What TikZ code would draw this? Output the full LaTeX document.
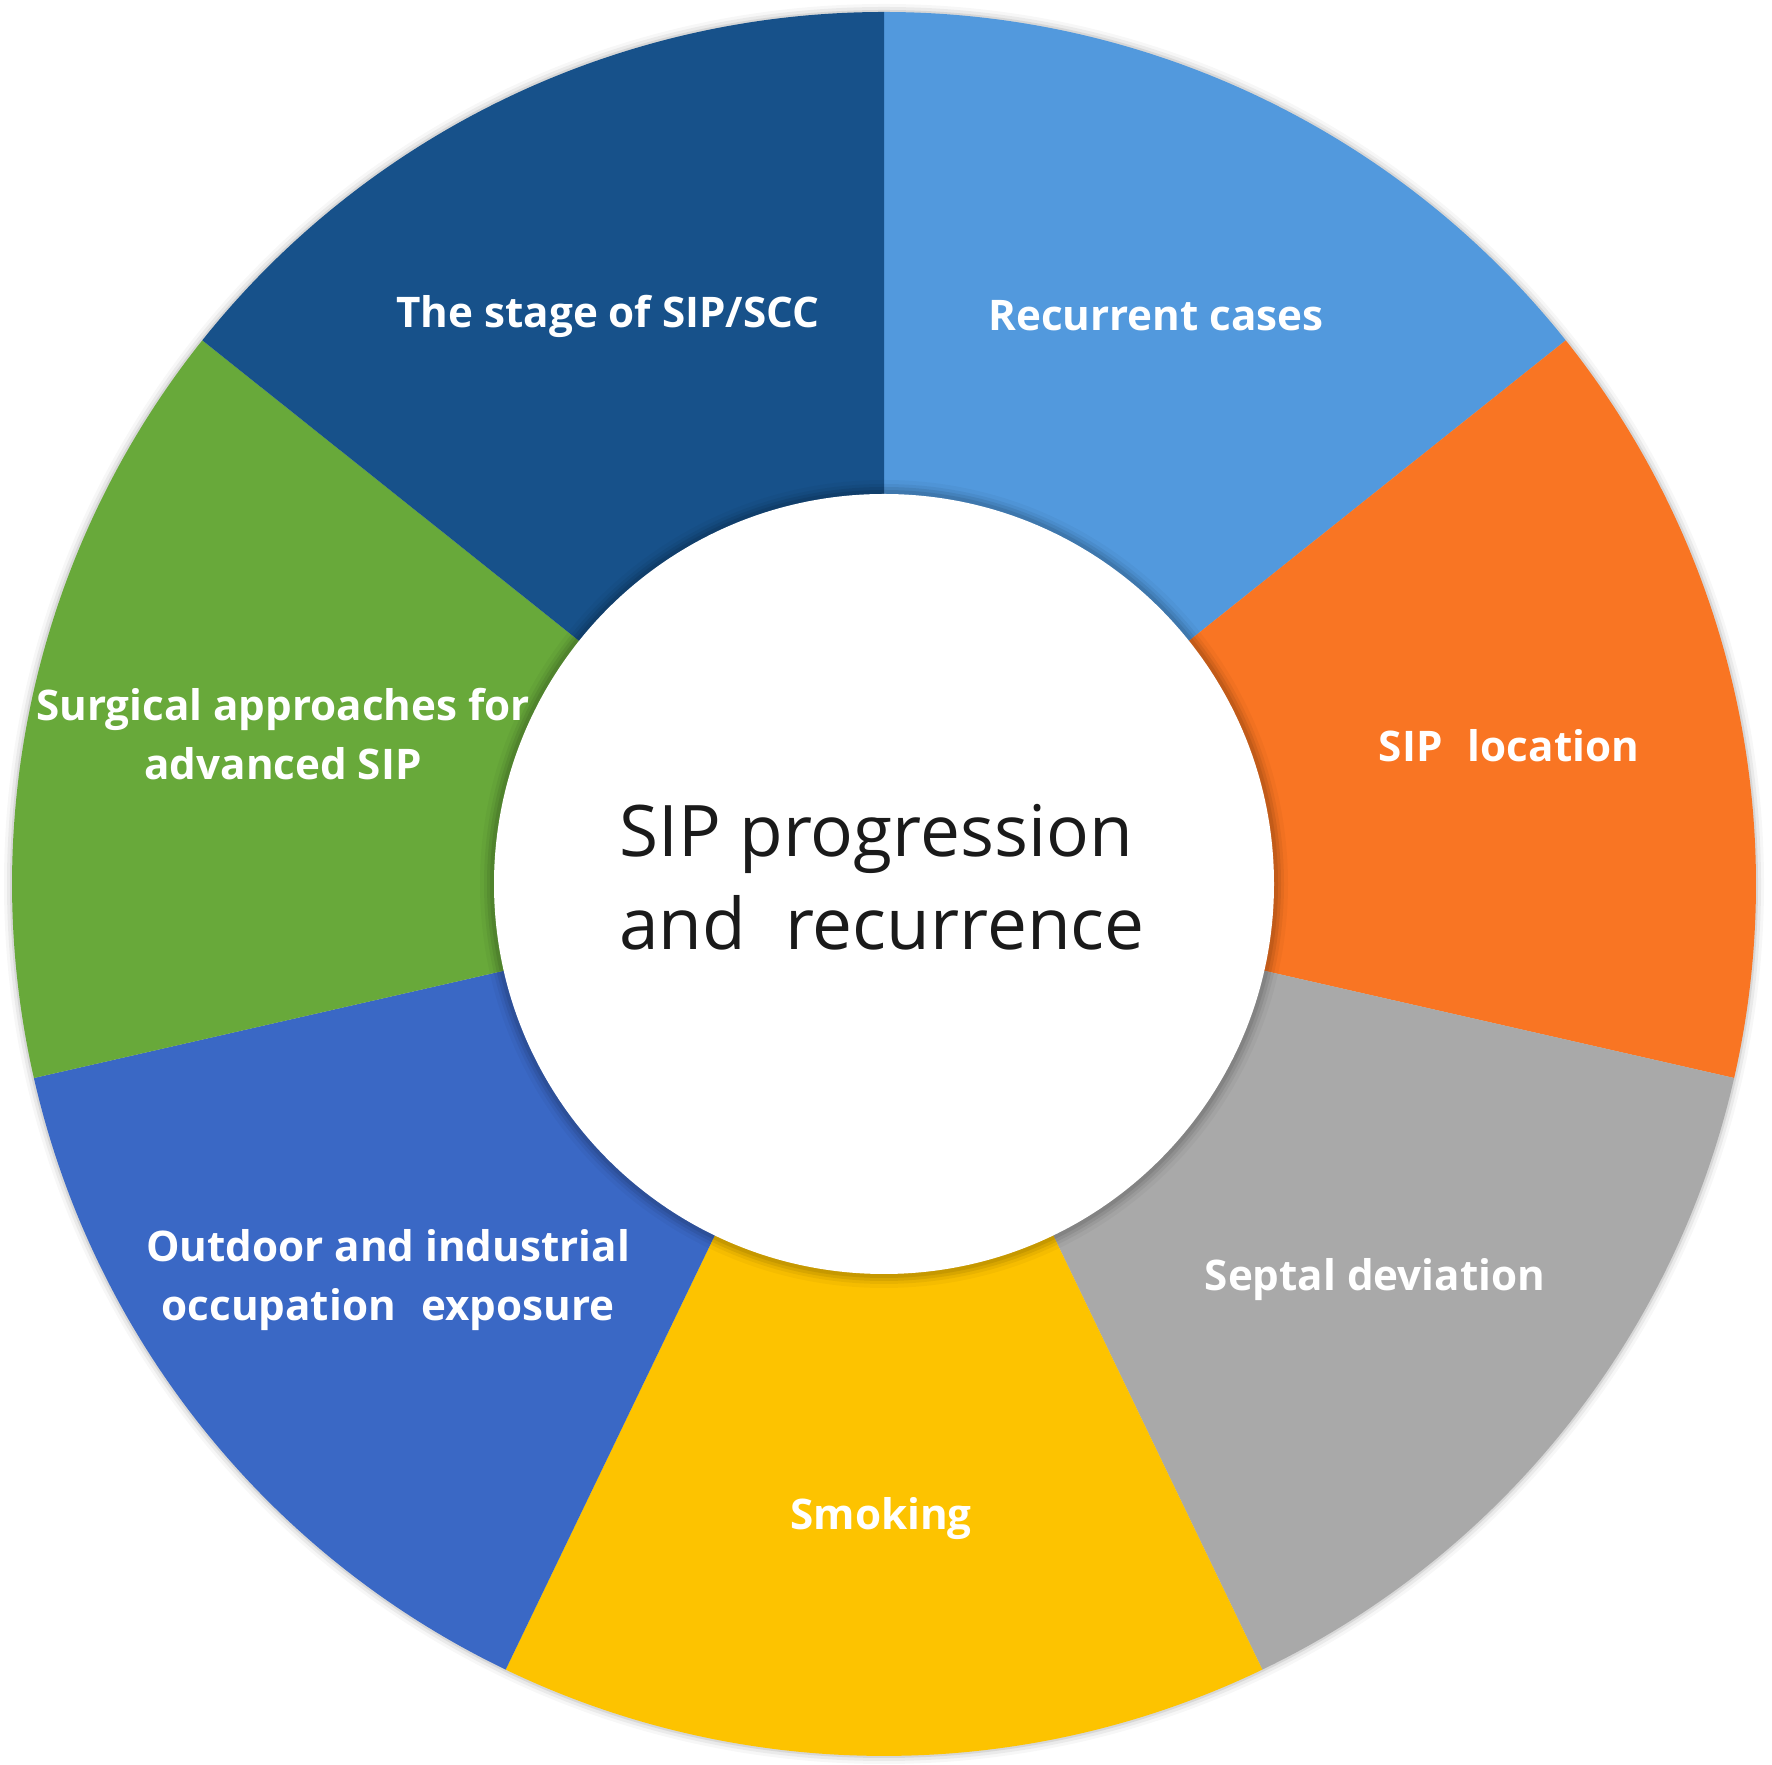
\documentclass[tikz,border=0pt]{standalone}
\usepackage{fontspec}
\setmainfont{Open Sans}
\definecolor{cLight}{HTML}{5299DD}
\definecolor{cOrange}{HTML}{F97523}
\definecolor{cGray}{HTML}{A9A9A9}
\definecolor{cYellow}{HTML}{FDC300}
\definecolor{cBlue}{HTML}{3A68C5}
\definecolor{cGreen}{HTML}{68A93A}
\definecolor{cDark}{HTML}{17518A}
\definecolor{cText}{HTML}{1A1A1A}
\tikzset{
  lab/.style={text=white, font=\bfseries\fontsize{24}{34}\selectfont, align=center, inner sep=0pt},
  ctr/.style={text=cText, font=\fontsize{40.5}{53}\selectfont, align=left, inner sep=0pt, anchor=west}
}
\begin{document}
\begin{tikzpicture}[x=0.02cm,y=0.02cm]
\useasboundingbox (0,0) rectangle (1772,1765);
\fill[white] (0,0) rectangle (1772,1765);
\coordinate (c) at (884,881);
% faint outer shadow
\foreach \r/\o in {880/0.03,877/0.05,874/0.08}{
  \fill[black,opacity=\o] (c) circle[radius=\r];
}
\foreach \i/\col in {0/cLight,1/cOrange,2/cGray,3/cYellow,4/cBlue,5/cGreen,6/cDark}{
  \pgfmathsetmacro{\aA}{90-\i*360/7}
  \pgfmathsetmacro{\aB}{90-(\i+1)*360/7}
  \fill[\col] (c) -- ++(\aA:872) arc[start angle=\aA, end angle=\aB, radius=872] -- cycle;
}
% inner shadow
\foreach \r/\o in {404/0.03,400/0.05,397/0.07,394/0.08}{
  \fill[black,opacity=\o] (c) circle[radius=\r];
}
\fill[white] (c) circle[radius=390];
\node[ctr] (center) at (619,888) {SIP progression\\and\hspace{0.55em}recurrence};
\node[lab] (recurrent) at (1156,1449) {Recurrent cases};
\node[lab] (location) at (1509,1019) {SIP\hspace{0.6em}location};
\node[lab] (septal) at (1375,485) {Septal deviation};
\node[lab] (smoking) at (881,246) {Smoking};
\node[lab] (outdoor) at (388,485) {Outdoor and industrial\\occupation\hspace{0.6em}exposure};
\node[lab] (surgical) at (283,1031) {Surgical approaches for\\advanced SIP};
\node[lab] (stage) at (608,1449) {The stage of SIP/SCC};
\end{tikzpicture}
\end{document}
